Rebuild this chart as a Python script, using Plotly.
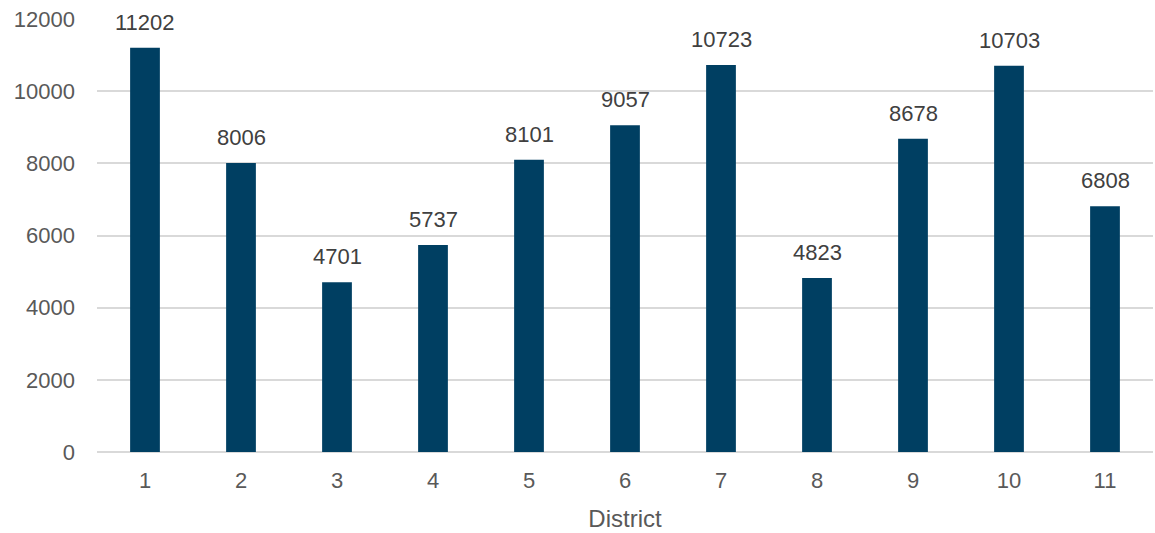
import plotly.graph_objects as go

districts = ["1", "2", "3", "4", "5", "6", "7", "8", "9", "10", "11"]
counts = [11202, 8006, 4701, 5737, 8101, 9057, 10723, 4823, 8678, 10703, 6808]
y_ticks = [0, 2000, 4000, 6000, 8000, 10000, 12000]

bar_color = "#003F62"
font_family = "Liberation Sans, Arial, sans-serif"

fig = go.Figure(
    go.Bar(
        x=districts,
        y=counts,
        marker=dict(color=bar_color, line=dict(width=0)),
        width=0.31,
        hoverinfo="x+y",
    )
)

# value labels above each bar (positioned by category index)
for i, v in enumerate(counts):
    fig.add_annotation(
        x=i, y=v, text=str(v), showarrow=False,
        yanchor="bottom", yshift=11,
        font=dict(family=font_family, size=22, color="#404040"),
    )

fig.update_layout(
    width=1155,
    height=533,
    margin=dict(l=97, r=2, t=19, b=81),
    paper_bgcolor="white",
    plot_bgcolor="white",
    showlegend=False,
    font=dict(family=font_family, size=22, color="#595959"),
    xaxis=dict(
        type="category",
        range=[-0.5, len(districts) - 0.5],
        title=dict(text="District", font=dict(size=24, color="#595959"), standoff=18),
        showgrid=False,
        showline=False,
        ticks="",
        ticklabelstandoff=13,
        tickfont=dict(size=22, color="#595959"),
    ),
    yaxis=dict(
        range=[0, 12000],
        tickvals=y_ticks,
        ticktext=[str(t) for t in y_ticks],
        showgrid=True,
        gridcolor="#D9D9D9",
        gridwidth=1.5,
        zeroline=True,
        zerolinecolor="#D9D9D9",
        zerolinewidth=1.5,
        showline=False,
        ticks="",
        ticklabelstandoff=21,
        tickfont=dict(size=22, color="#595959"),
    ),
)

fig.write_html("out.html")
